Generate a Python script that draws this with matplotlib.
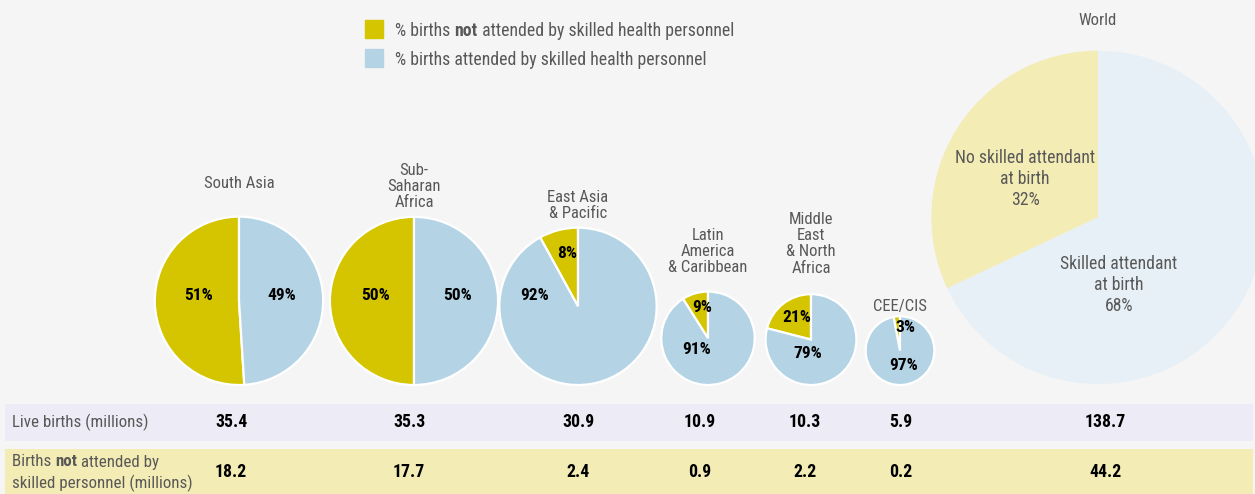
import numpy as np
import matplotlib.pyplot as plt
from matplotlib import font_manager

# ---------------------------------------------------------
# data
# ---------------------------------------------------------
regions = ["South Asia", "Sub-\nSaharan\nAfrica", "East Asia\n& Pacific",
           "Latin\nAmerica\n& Caribbean", "Middle\nEast\n& North\nAfrica",
           "CEE/CIS", "World"]
live_births = [35.4, 35.3, 30.9, 10.9, 10.3, 5.9, 138.7]        # millions
not_attended_pct = [51, 50, 8, 9, 21, 3, 32]                     # %
not_attended_births = [18.2, 17.7, 2.4, 0.9, 2.2, 0.2, 44.2]     # millions

# ---------------------------------------------------------
# layout (pixels, measured from the top-left corner)
# ---------------------------------------------------------
W, H = 1255, 494
pie_x = [239, 414, 578, 708, 811, 900, 1098]
pie_bottom = [385, 385, 385, 385, 385, 385, 384]
radius_scale = 14.15          # radius = scale * sqrt(live births)
title_top = [176, 163, 190, 228, 212, 299, 13]
pct_not_xy = [(199, 295), (376, 295), (567, 253), (702, 307), (797, 317), (905, 328)]
pct_att_xy = [(282, 295), (458, 295), (535, 295), (697, 350), (808, 353), (904, 366)]
world_not_xy = (1025, 179)
world_att_xy = (1119, 285)
col_x = [231, 409, 578, 700, 805, 901, 1105]

YELLOW = "#D5C500"
BLUE = "#B4D4E6"
YELLOW_LIGHT = "#F4ECB5"
BLUE_LIGHT = "#E7F0F6"
GREY = "#585858"
BG = "#F5F5F5"

# pick a narrow sans face if one is around
fonts = font_manager.fontManager.ttflist
names = {f.name for f in fonts}
STRETCH = "normal"
FAMILY = "DejaVu Sans"
for cand in ["Roboto Condensed", "Liberation Sans Narrow", "Open Sans Condensed",
             "Noto Sans Condensed"]:
    if cand in names:
        FAMILY = cand
        break
else:
    if any(f.name == "DejaVu Sans" and "condensed" in str(f.stretch) for f in fonts):
        STRETCH = "condensed"
    elif "Roboto" in names:
        FAMILY = "Roboto"
plt.rcParams["font.family"] = [FAMILY, "DejaVu Sans"]
plt.rcParams["font.stretch"] = STRETCH


def py(y):
    # convert a top-down pixel row into a data y value
    return H - y


fig = plt.figure(figsize=(W / 100, H / 100), dpi=100, facecolor=BG)
ax = fig.add_axes([0, 0, 1, 1])
ax.set_facecolor(BG)

# ---------------------------------------------------------
# pies, area proportional to live births
# ---------------------------------------------------------
for i, name in enumerate(regions):
    r = radius_scale * np.sqrt(live_births[i])
    cy = pie_bottom[i] - r
    world = name == "World"
    colors = [YELLOW_LIGHT, BLUE_LIGHT] if world else [YELLOW, BLUE]
    ax.pie([not_attended_pct[i], 100 - not_attended_pct[i]], colors=colors,
           startangle=90, counterclock=True, center=(pie_x[i], py(cy)), radius=r,
           wedgeprops=dict(edgecolor="white", linewidth=0 if world else 1.6))
    ax.text(pie_x[i], py(title_top[i]), name, ha="center", va="top",
            fontsize=12, color=GREY, linespacing=1.1)

    if world:
        ax.text(world_not_xy[0], py(world_not_xy[1]),
                f"No skilled attendant\nat birth\n{not_attended_pct[i]}%",
                ha="center", va="center", fontsize=12.7, color=GREY, linespacing=1.18)
        ax.text(world_att_xy[0], py(world_att_xy[1]),
                f"Skilled attendant\nat birth\n{100 - not_attended_pct[i]}%",
                ha="center", va="center", fontsize=12.7, color=GREY, linespacing=1.18)
    else:
        ax.text(pct_not_xy[i][0], py(pct_not_xy[i][1]), f"{not_attended_pct[i]}%",
                ha="center", va="center", fontsize=12.5, fontweight="bold")
        ax.text(pct_att_xy[i][0], py(pct_att_xy[i][1]), f"{100 - not_attended_pct[i]}%",
                ha="center", va="center", fontsize=12.5, fontweight="bold")

ax.set_xlim(0, W)
ax.set_ylim(0, H)
ax.set_aspect("equal")
ax.axis("off")


def rich_text(x, y, parts, **kw):
    # draw a line made of (text, weight) pieces, each one placed after the last
    t = ax.text(x, y, parts[0][0], fontweight=parts[0][1], va="center", **kw)
    for s, w in parts[1:]:
        t = ax.annotate(s, xy=(1, 0), xycoords=t, va="bottom", fontweight=w, **kw)
    return t


# ---------------------------------------------------------
# legend
# ---------------------------------------------------------
ax.add_patch(plt.Rectangle((365, py(38)), 18, 18, color=YELLOW))
ax.add_patch(plt.Rectangle((365, py(67)), 18, 18, color=BLUE))
rich_text(395, py(31), [("% births ", "normal"), ("not", "bold"),
                        (" attended by skilled health personnel", "normal")],
          fontsize=12.8, color=GREY)
ax.text(395, py(60), "% births attended by skilled health personnel",
        va="center", fontsize=12.8, color=GREY)

# ---------------------------------------------------------
# table underneath
# ---------------------------------------------------------
ax.add_patch(plt.Rectangle((5, py(441)), 1248, 37, color="#EDEBF5", lw=0))
ax.add_patch(plt.Rectangle((5, py(494)), 1248, 45, color=YELLOW_LIGHT, lw=0))

ax.text(12, py(422), "Live births (millions)", va="center", fontsize=12.2, color=GREY)
rich_text(12, py(462), [("Births ", "normal"), ("not", "bold"), (" attended by", "normal")],
          fontsize=12.2, color=GREY)
ax.text(12, py(483), "skilled personnel (millions)", va="center", fontsize=12.2, color=GREY)

for x, v1, v2 in zip(col_x, live_births, not_attended_births):
    ax.text(x, py(422), f"{v1:.1f}", ha="center", va="center",
            fontsize=12.8, fontweight="bold")
    ax.text(x, py(472), f"{v2:.1f}", ha="center", va="center",
            fontsize=12.8, fontweight="bold")

fig.savefig("out.png", dpi=100, facecolor=BG)
